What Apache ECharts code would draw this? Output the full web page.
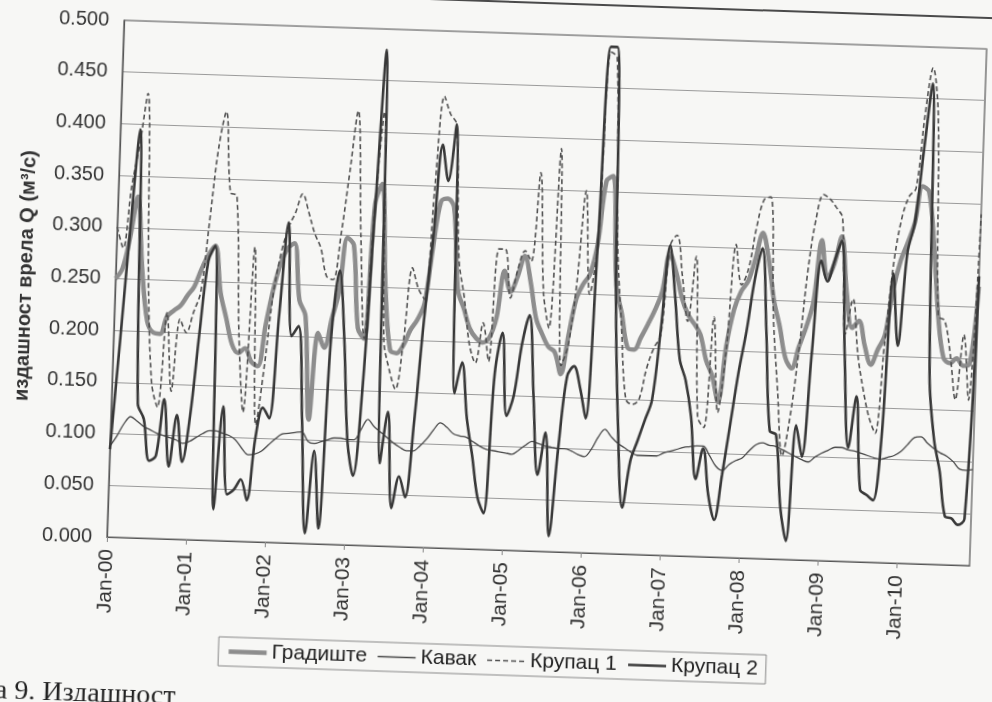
<!DOCTYPE html>
<html><head><meta charset="utf-8">
<script src="https://cdn.jsdelivr.net/npm/echarts@6/dist/echarts.min.js"></script>
<style>
html,body{margin:0;padding:0;background:#f7f7f5;overflow:hidden;width:992px;height:702px;}
#chart{position:absolute;left:0;top:0;width:992px;height:702px;transform-origin:107px 537px;transform:rotate(1.9deg);}
#rule{position:absolute;left:400px;top:-3px;width:620px;height:2px;background:#4a4a4a;transform-origin:0 0;transform:rotate(1.95deg);}
</style></head><body>
<div id="rule"></div>
<div id="chart"></div>
<script>
const years = ['00','01','02','03','04','05','06','07','08','09','10'];
const monthNames = ['Jan','Feb','Mar','Apr','May','Jun','Jul','Aug','Sep','Oct','Nov','Dec'];
const categories = years.flatMap(y => monthNames.map(m => m + '-' + y));

const seriesNames = ['Градиште', 'Кавак', 'Крупац 1', 'Крупац 2'];

const gradiste = [
  .25,.26,.29,.33,.26,.21,.199,.198,.215,.221,.226,.236,
  .245,.262,.276,.285,.24,.215,.19,.182,.187,.174,.17,.21,
  .245,.27,.285,.29,.235,.22,.12,.204,.19,.218,.245,.297,
  .29,.21,.20,.33,.35,.25,.19,.187,.195,.21,.22,.236,
  .29,.335,.338,.33,.25,.232,.213,.204,.20,.205,.225,.27,
  .25,.265,.285,.26,.225,.21,.198,.193,.172,.21,.245,.26,
  .27,.30,.36,.365,.26,.232,.20,.198,.21,.223,.237,.255,
  .292,.275,.25,.234,.225,.215,.19,.175,.15,.205,.24,.258,
  .268,.29,.315,.29,.25,.225,.195,.185,.206,.225,.25,.31,
  .273,.288,.314,.26,.226,.233,.209,.191,.206,.22,.263,.292,
  .31,.33,.365,.36,.31,.24,.20,.195,.20,.193,.195,.27
];
const kavak = [
  .088,.098,.110,.117,.113,.108,.105,.102,.100,.098,.096,.093,
  .095,.099,.103,.106,.106,.104,.102,.098,.090,.084,.085,.088,
  .094,.100,.105,.106,.107,.108,.099,.097,.099,.101,.103,.103,
  .102,.102,.112,.122,.115,.110,.105,.100,.096,.093,.093,.098,
  .105,.114,.121,.117,.111,.109,.108,.104,.100,.097,.096,.095,
  .094,.093,.097,.102,.106,.104,.102,.101,.100,.100,.098,.095,
  .093,.100,.112,.120,.113,.107,.103,.099,.096,.096,.096,.096,
  .099,.101,.103,.105,.106,.107,.107,.098,.088,.084,.090,.094,
  .097,.104,.110,.112,.110,.109,.106,.103,.100,.097,.095,.100,
  .104,.107,.110,.110,.108,.107,.105,.103,.101,.100,.102,.104,
  .108,.115,.122,.123,.117,.112,.108,.105,.100,.093,.092,.093
];
const krupac1 = [
  .30,.28,.34,.38,.43,.25,.15,.127,.219,.143,.213,.20,
  .22,.24,.31,.38,.415,.337,.334,.20,.125,.285,.113,.17,
  .24,.28,.305,.32,.338,.32,.30,.286,.259,.256,.30,.36,
  .42,.30,.20,.33,.42,.20,.17,.152,.20,.27,.25,.24,
  .35,.437,.42,.41,.28,.243,.198,.18,.219,.182,.291,.291,
  .244,.272,.29,.28,.366,.25,.216,.39,.18,.20,.26,.35,
  .25,.30,.485,.48,.30,.22,.15,.145,.15,.18,.20,.213,
  .30,.31,.27,.227,.29,.135,.125,.232,.14,.20,.303,.264,
  .28,.32,.347,.35,.234,.163,.10,.137,.20,.28,.331,.354,
  .35,.342,.332,.22,.254,.20,.166,.14,.125,.213,.291,.334,
  .355,.363,.434,.48,.434,.24,.236,.204,.16,.223,.16,.34
];
const krupac2 = [
  .085,.19,.30,.395,.13,.115,.075,.08,.135,.07,.12,.075,
  .12,.20,.27,.285,.03,.13,.045,.05,.06,.04,.10,.13,
  .12,.22,.31,.20,.21,.12,.01,.09,.015,.20,.265,.20,
  .10,.067,.15,.32,.48,.08,.13,.037,.068,.048,.12,.22,
  .30,.39,.355,.41,.15,.18,.126,.09,.05,.035,.17,.21,
  .13,.15,.20,.228,.15,.074,.115,.015,.10,.17,.18,.16,
  .13,.30,.49,.49,.25,.12,.045,.09,.11,.13,.15,.22,
  .30,.25,.19,.17,.135,.075,.105,.06,.036,.08,.13,.18,
  .22,.27,.30,.22,.124,.12,.05,.018,.13,.10,.20,.29,
  .27,.29,.31,.20,.11,.16,.07,.065,.06,.12,.28,.21,
  .30,.33,.40,.465,.18,.12,.09,.047,.045,.039,.045,.28
];
const yAxisTitle = 'издашност врела Q (м³/с)';
const captionText = 'а 9. Издашност';

const isJan = (i) => i % 12 === 0;

const styles = [
  {color: '#8d8d8d', width: 4.5, type: 'solid'},
  {color: '#474747', width: 1.3, type: 'solid'},
  {color: '#505050', width: 1.6, type: [5, 3]},
  {color: '#383838', width: 2.6, type: 'solid'}
];
const seriesData = [gradiste, kavak, krupac1, krupac2];

const chart = echarts.init(document.getElementById('chart'), null, {renderer: 'canvas'});
chart.setOption({
  backgroundColor: 'transparent',
  animation: false,
  textStyle: {fontFamily: '"Liberation Sans", Arial, sans-serif'},
  grid: {left: 107, top: 20, width: 863, height: 517, show: true, borderColor: '#555', borderWidth: 1.2,
         containLabel: false, outerBoundsMode: 'none'},
  legend: {
    data: seriesNames.map((n, i) => ({name: n, lineStyle: {color: styles[i].color, width: styles[i].width, type: styles[i].type}})),
    left: 'center', top: 633, itemWidth: 38, itemHeight: 14, itemGap: 10,
    padding: [4, 8], borderColor: '#888', borderWidth: 1,
    itemStyle: {opacity: 0},
    textStyle: {fontSize: 21, color: '#222', fontFamily: '"Liberation Sans Narrow", "Liberation Sans", Arial'}
  },
  xAxis: {
    type: 'category', data: categories, boundaryGap: false,
    axisLine: {lineStyle: {color: '#555', width: 1.2}},
    axisTick: {show: true, interval: isJan, length: 5, lineStyle: {color: '#888'}},
    axisLabel: {interval: isJan, rotate: 90, fontSize: 21, color: '#333', margin: 12},
    splitLine: {show: false}
  },
  yAxis: {
    type: 'value', min: 0, max: 0.5, interval: 0.05,
    name: yAxisTitle, nameLocation: 'middle', nameGap: 80, nameRotate: 90,
    nameTextStyle: {fontSize: 20, fontWeight: 'bold', color: '#333'},
    axisLine: {show: true, lineStyle: {color: '#555', width: 1.2}},
    axisTick: {show: false},
    axisLabel: {formatter: v => v.toFixed(3), fontSize: 20, color: '#333', margin: 15},
    splitLine: {lineStyle: {color: '#9a9a9a', width: 1.2}}
  },
  graphic: [{
    type: 'text', x: 0, y: 709,
    style: {text: captionText, font: '28px "Liberation Serif", "DejaVu Serif", serif', fill: '#222', verticalAlign: 'bottom'}
  }],
  series: seriesNames.map((n, i) => ({
    name: n, type: 'line', data: seriesData[i], symbol: 'none', smooth: 0.35,
    lineStyle: {color: styles[i].color, width: styles[i].width, type: styles[i].type},
    itemStyle: {color: styles[i].color}
  }))
});
</script></body></html>
